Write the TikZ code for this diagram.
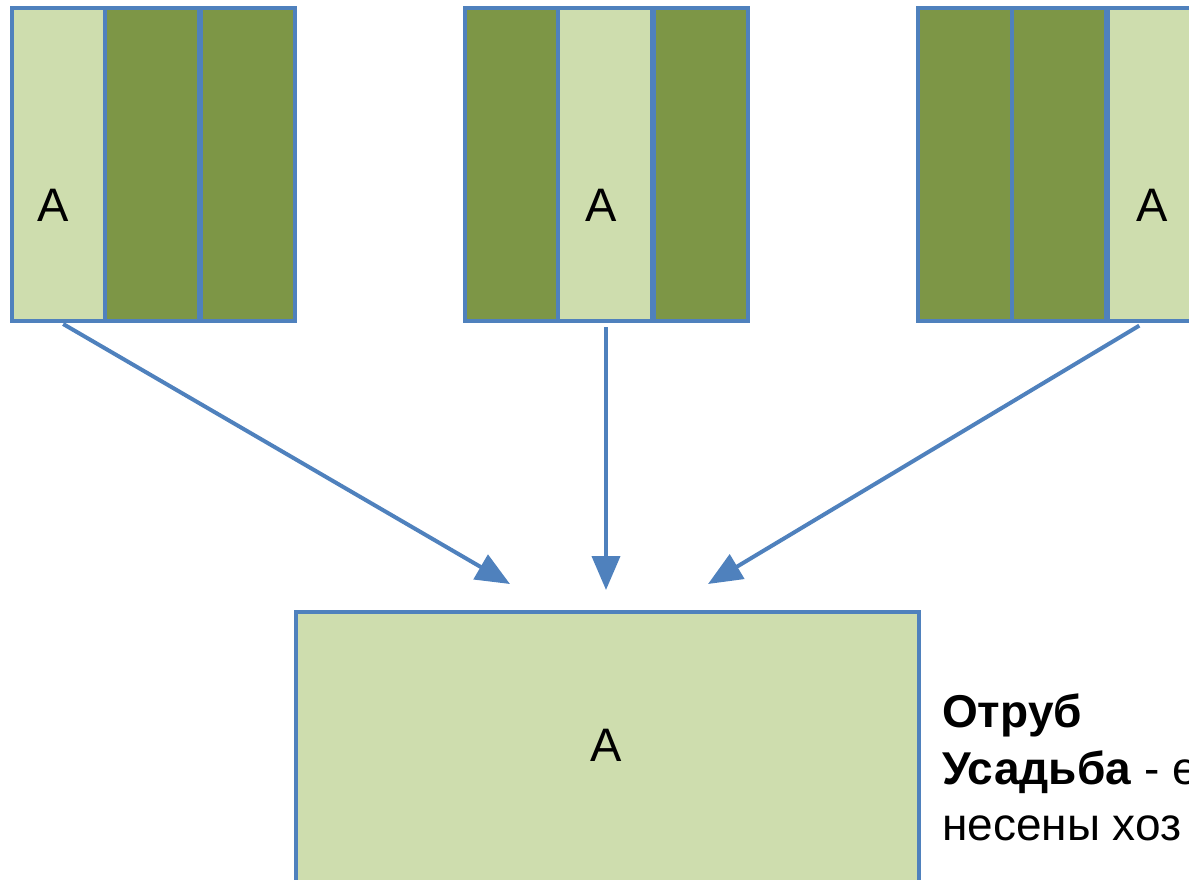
\documentclass[tikz,border=0pt]{standalone}
\usepackage{fontspec}
\setmainfont{Liberation Sans}
\usetikzlibrary{arrows.meta}
\definecolor{bordblue}{RGB}{79,129,189}
\definecolor{lightg}{RGB}{206,221,174}
\definecolor{darkg}{RGB}{125,150,70}
\tikzset{
  strip/.style={draw=bordblue, line width=4pt, minimum width=94pt, minimum height=313pt, inner sep=0pt, outer sep=0pt, anchor=north west},
  lstrip/.style={strip, fill=lightg},
  dstrip/.style={strip, fill=darkg},
  letter/.style={font=\fontsize{47}{50}\selectfont, inner sep=0pt},
  line/.style={anchor=base west, inner sep=0pt, font=\fontsize{46}{56}\selectfont},
  conn/.style={draw=bordblue, line width=4pt, -{Triangle[length=34pt,width=28pt]}, shorten <=6pt},
}
\begin{document}
\begin{tikzpicture}[x=1pt,y=-1pt]
\useasboundingbox (0,0) rectangle (1189,879);
\clip (0,0) rectangle (1189,879);
% group 1
\node[lstrip] (s11) at (12,8) {};
\node[dstrip] (s12) at (105,8) {};
\node[dstrip] (s13) at (201,8) {};
\node[letter] (a1) at (53,205) {A};
% group 2
\node[dstrip] (s21) at (465,8) {};
\node[lstrip] (s22) at (558,8) {};
\node[dstrip] (s23) at (654,8) {};
\node[letter] (a2) at (601,205) {A};
% group 3
\node[dstrip] (s31) at (918,8) {};
\node[dstrip] (s32) at (1012,8) {};
\node[lstrip, minimum width=96pt] (s33) at (1108,8) {};
\node[letter] (a3) at (1152,205) {A};
% bottom box
\node[draw=bordblue, fill=lightg, line width=4pt, minimum width=623pt, minimum height=300pt, inner sep=0pt, outer sep=0pt, anchor=north west] (big) at (296,612) {};
\node[letter] (bigA) at (606,745) {A};
% targets
\coordinate (e1) at (510,584);
\coordinate (e2) at (606,590);
\coordinate (e3) at (708,584);
\draw[conn] ([xshift=-1pt]s11.south) -- (e1);
\draw[conn] ([xshift=1pt]s22.south) -- (e2);
\draw[conn, shorten <=9pt] ([xshift=-9pt]s33.south) -- (e3);
% text
\node[line] (t1) at (942,727) {\textbf{Отруб}};
\node[line] (t2) at (942,784) {\textbf{Усадьба} - е};
\node[line] (t3) at (942,840) {несены хоз};
\end{tikzpicture}
\end{document}
